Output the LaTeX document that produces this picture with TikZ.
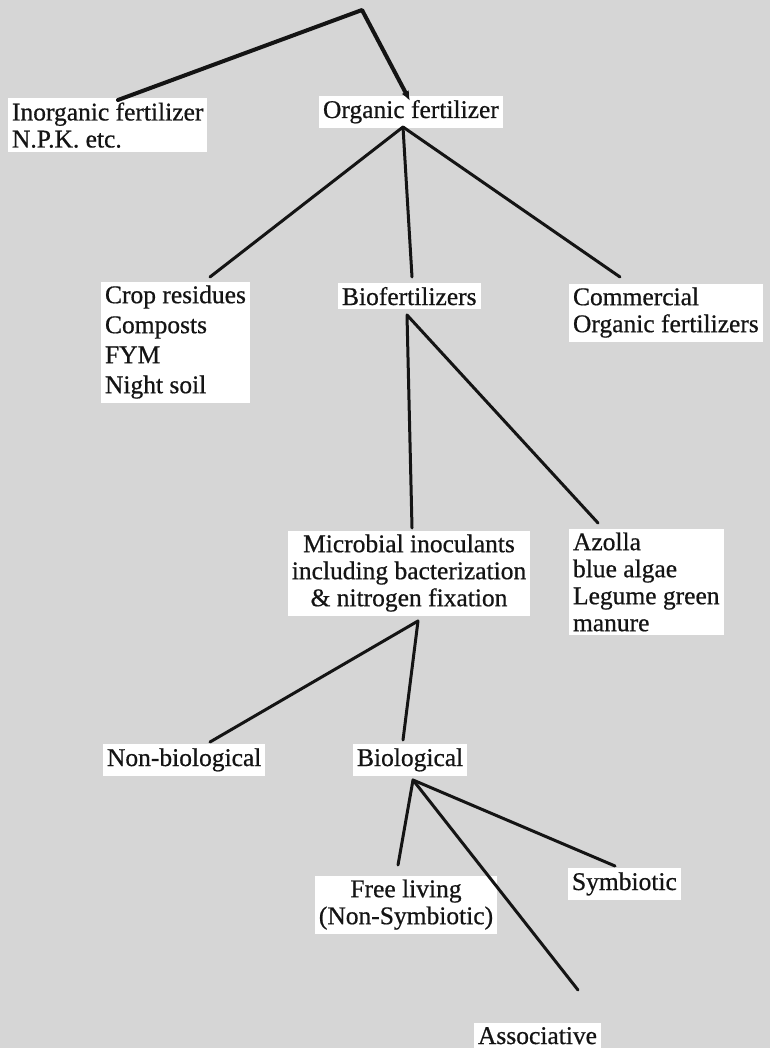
\documentclass[tikz,border=0pt]{standalone}
\usepackage{fontspec}
\setmainfont{Liberation Serif}[FakeBold=0.6]
\usetikzlibrary{arrows.meta}
\definecolor{paper}{gray}{0.84}
\definecolor{ink}{gray}{0.08}

\begin{document}
\begin{tikzpicture}[x=0.5pt, y=-0.5pt,
      every node/.style={font=\fontsize{12.75}{13.5}\selectfont, inner sep=2pt,
                         outer sep=0pt, fill=white, text=ink},
      list/.style={align=left, anchor=north west},
      stack/.style={align=center, anchor=north},
      word/.style={anchor=base west},
      trunk/.style={ink, line width=2pt, line cap=round, line join=round},
      twig/.style={ink, line width=1.5pt, line cap=round, line join=round},
    ]
    % Grey scanned page, one pixel of the reference is half a point.
    \fill[paper] (0,0) rectangle (770,1048);
    \useasboundingbox (0,0) rectangle (770,1048);
    \node[list] (inorg) at (8,98.5) {Inorganic fertilizer\\N.P.K. etc.};
    \node[word] (organic) at (319,118) {Organic fertilizer};
    \node[list, font=\fontsize{12.75}{15}\selectfont] (crop) at (101,281.5)
      {Crop residues\\Composts\\FYM\\Night soil};
    \node[word] (biofert) at (338,305) {Biofertilizers};
    \node[list] (comm) at (569,283.5) {Commercial\\Organic fertilizers};
    \node[stack] (micro) at (409,530.5)
      {Microbial inoculants\\including bacterization\\\& nitrogen fixation};
    \node[list] (azolla) at (569,528.5) {Azolla\\blue algae\\Legume green\\manure};
    \node[word] (nonbio) at (103,766) {Non-biological};
    \node[word] (biol) at (353,766) {Biological};
    \node[stack] (free) at (406,875.5) {Free living\\(Non-Symbiotic)};
    \node[word] (symb) at (568,890) {Symbiotic};
    \node[word] (assoc) at (474,1044) {Associative};
    % Branch points and the free ends just above each label.
    \coordinate (apex) at (362,10);
    \coordinate (inorg-top) at (118,100);
    \coordinate (organic-top) at (410,101);
    \coordinate (orgv) at (403,127);
    \coordinate (crop-top) at (210,277);
    \coordinate (biofert-top) at (412,277);
    \coordinate (comm-top) at (620,277);
    \coordinate (biov) at (407,315);
    \coordinate (micro-top) at (412,528);
    \coordinate (azolla-top) at (598,523);
    \coordinate (microv) at (418,621);
    \coordinate (nonbio-top) at (210,742);
    \coordinate (biol-top) at (403,740);
    \coordinate (biolv) at (413,780);
    \coordinate (free-top) at (398,865);
    \coordinate (symb-top) at (615,866);
    \coordinate (assoc-top) at (578,990);
    \draw[trunk, -{Latex[length=5pt, width=4pt]}] (inorg-top) -- (apex) -- (organic-top);
    \draw[twig] (crop-top) -- (orgv) -- (comm-top);
    \draw[twig] (orgv) -- (biofert-top);
    \draw[twig] (micro-top) -- (biov) -- (azolla-top);
    \draw[twig] (nonbio-top) -- (microv) -- (biol-top);
    \draw[twig] (free-top) -- (biolv) -- (symb-top);
    \draw[twig] (biolv) -- (assoc-top);
  \end{tikzpicture}
\end{document}
